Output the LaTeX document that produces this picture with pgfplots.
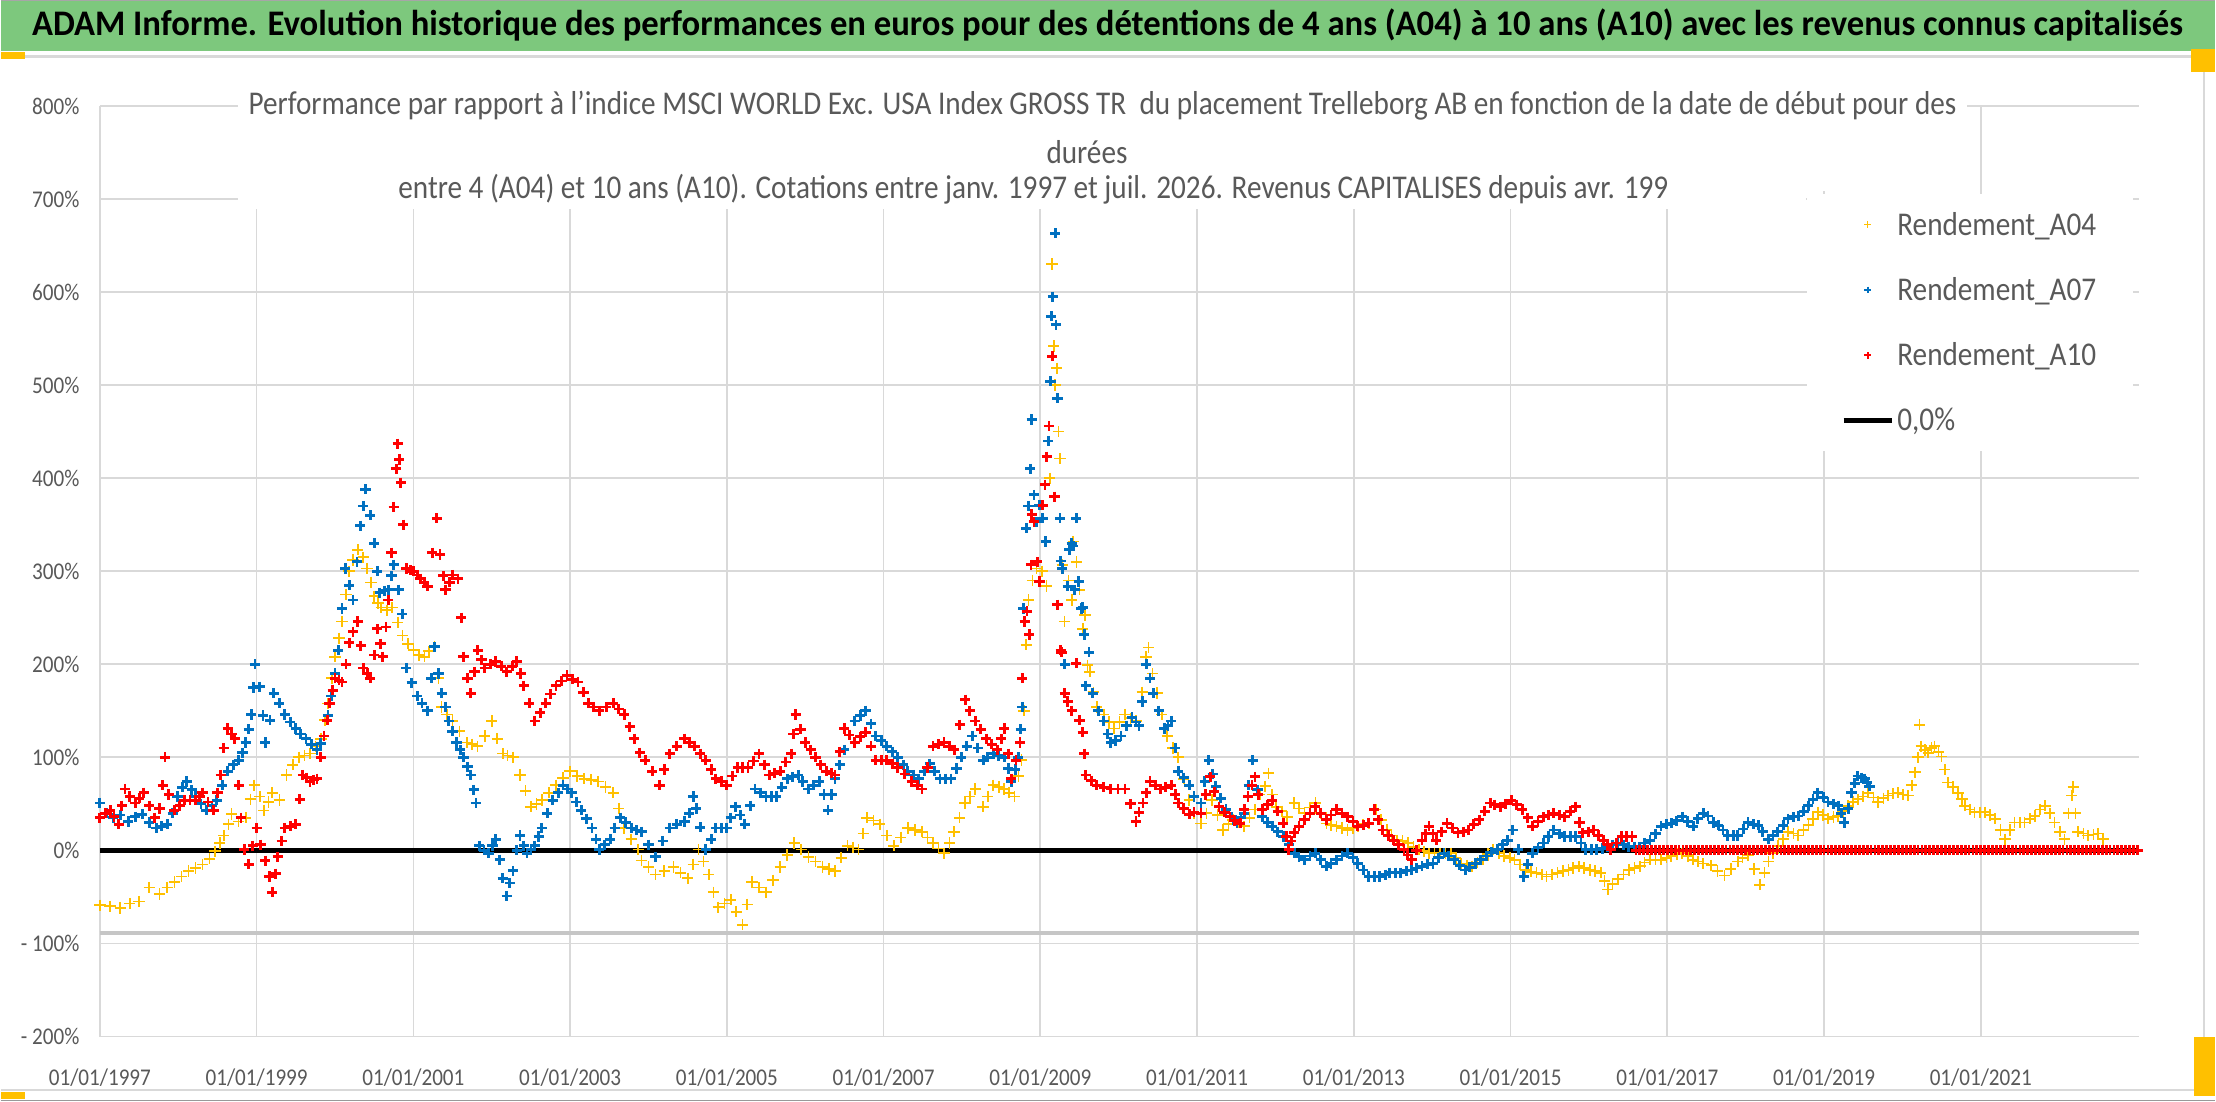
\documentclass[border=0pt]{standalone}
\usepackage{fontspec}
\setmainfont{Carlito}[FakeStretch=0.88]
\usepackage{graphicx}
\usepackage{pgfplots}
\pgfplotsset{compat=1.18}
\definecolor{gridgray}{HTML}{D9D9D9}
\definecolor{textgray}{HTML}{595959}
\definecolor{cA}{HTML}{FFC000}
\definecolor{cB}{HTML}{0070C0}
\definecolor{cC}{HTML}{FF0000}
\definecolor{banner}{RGB}{125,200,125}
\definecolor{handle}{HTML}{FFC000}
\pgfplotsset{
  mylegmark/.style={legend image code/.code={\draw[mark repeat=2,mark phase=2,##1] plot coordinates {(0pt,0pt) (17pt,0pt) (34pt,0pt)};}},
  mylegline/.style={legend image code/.code={\draw[##1] (0pt,0pt) -- (34pt,0pt);}}
}
\begin{document}
\begin{tikzpicture}[x=1pt,y=1pt]
% background and frame
\fill[white] (0,0) rectangle (1568,780);
\fill[banner] (0,744) rectangle (1568,780);
\draw[gray!70,line width=1pt] (0,779.5) -- (1568,779.5);
\draw[gray!30,line width=1.5pt] (0,740) -- (1560,740);
\draw[gray!30,line width=1.5pt] (1560,740) -- (1560,8);
\draw[gray!30,line width=1.5pt] (0,8) -- (1560,8);
\draw[gray!80,line width=1pt] (0,0.5) -- (1568,0.5);
\fill[handle] (0,738) rectangle (17,743);
\fill[handle] (1551,729) rectangle (1568,745);
\fill[handle] (1553,4) rectangle (1568,46);
\fill[handle] (0,2) rectangle (17,7);
\node[text=black] at (783.5,762) {\resizebox{1523pt}{\height}{\fontsize{25.5}{28}\selectfont\bfseries ADAM Informe. Evolution historique des performances en euros pour des détentions de 4 ans (A04) à 10 ans (A10) avec les revenus connus capitalisés}};
\begin{axis}[
  at={(70pt,46pt)}, anchor=south west,
  scale only axis, width=1444pt, height=659pt,
  xmin=1997, xmax=2023.02, ymin=-200, ymax=800,
  xtick={1997,1999,2001,2003,2005,2007,2009,2011,2013,2015,2017,2019,2021},
  xticklabels={01/01/1997,01/01/1999,01/01/2001,01/01/2003,01/01/2005,01/01/2007,01/01/2009,01/01/2011,01/01/2013,01/01/2015,01/01/2017,01/01/2019,01/01/2021},
  ytick={-200,-100,0,100,200,300,400,500,600,700,800},
  yticklabels={- 200\%,- 100\%,0\%,100\%,200\%,300\%,400\%,500\%,600\%,700\%,800\%},
  grid=major, grid style={color=gridgray,line width=1.2pt},
  axis line style={draw=none}, major tick style={draw=none},
  /pgf/number format/assume math mode=true,
  tick label style={text=textgray,font=\fontsize{17}{20}\selectfont},
  xticklabel style={yshift=-19pt},
  yticklabel style={xshift=-11pt},
  clip=false,
  legend style={at={(0.837,0.906)},anchor=north west,draw=none,fill=white,
    inner xsep=24pt,inner ysep=11pt,row sep=24.5pt,
    font=\fontsize{23.5}{27}\selectfont,text=textgray},
  legend cell align=left,
]
\addplot[line width=4pt,black,forget plot] coordinates {(1997,0) (2023.0,0)};
\addplot[line width=2.8pt,color=gray!45,forget plot] coordinates {(1997,-89) (2023.02,-89)};
% A04
\addplot[only marks,mark=+,mark size=4pt,line width=1.2pt,color=cA,forget plot] coordinates {
(1997.00,-59) (1997.13,-60) (1997.26,-62) (1997.38,-57) (1997.50,-55) (1997.63,-40) (1997.76,-47) (1997.86,-40) (1997.95,-34)
(1998.04,-28) (1998.13,-22) (1998.22,-19) (1998.31,-15) (1998.40,-9) (1998.47,-1) (1998.53,8) (1998.58,16) (1998.64,28) (1998.68,39)
(1998.77,31) (1998.86,35) (1998.92,55) (1998.97,70) (1999.04,58) (1999.09,43) (1999.15,52) (1999.20,62) (1999.29,54) (1999.38,81)
(1999.46,92) (1999.54,100) (1999.61,102) (1999.68,104) (1999.75,112) (1999.82,120) (1999.87,140) (1999.91,158) (1999.96,185)
(2000.00,208) (2000.05,228) (2000.09,246) (2000.14,275) (2000.18,300) (2000.23,312) (2000.29,323) (2000.36,315) (2000.41,303)
(2000.46,288) (2000.50,273) (2000.55,266) (2000.59,261) (2000.66,258) (2000.73,261) (2000.80,245) (2000.86,231) (2000.93,222)
(2001.00,215) (2001.07,210) (2001.14,208) (2001.20,214) (2001.27,219) (2001.32,185) (2001.36,154) (2001.43,146) (2001.50,139)
(2001.59,128) (2001.68,116) (2001.75,114) (2001.82,112) (2001.91,123) (2002.00,139) (2002.07,120) (2002.14,104) (2002.20,102)
(2002.27,100) (2002.36,81) (2002.43,64) (2002.50,47) (2002.57,50) (2002.64,54) (2002.73,62) (2002.82,70) (2002.91,78)
(2003.00,85) (2003.09,80) (2003.18,77) (2003.27,76) (2003.36,74) (2003.45,68) (2003.55,62) (2003.62,45) (2003.69,24) (2003.78,12)
(2003.87,1) (2003.91,-11) (2004.00,-18) (2004.09,-26) (2004.20,-22) (2004.32,-18) (2004.41,-24) (2004.50,-30) (2004.57,-15)
(2004.64,1) (2004.70,-12) (2004.77,-26) (2004.83,-45) (2004.89,-61) (2004.97,-57) (2005.05,-53) (2005.12,-66) (2005.20,-80)
(2005.26,-58) (2005.32,-34) (2005.41,-40) (2005.50,-45) (2005.59,-32) (2005.68,-18) (2005.77,-5) (2005.86,8) (2005.95,1)
(2006.04,-7) (2006.13,-12) (2006.22,-18) (2006.30,-20) (2006.38,-22) (2006.46,-8) (2006.54,5) (2006.61,3) (2006.68,1)
(2006.74,18) (2006.79,35) (2006.87,32) (2006.95,28) (2007.04,16) (2007.13,5) (2007.22,14) (2007.31,24) (2007.40,22) (2007.49,20)
(2007.56,14) (2007.63,8) (2007.70,2) (2007.77,-3) (2007.84,8) (2007.90,20) (2007.97,35) (2008.04,51) (2008.10,58) (2008.17,66)
(2008.27,47) (2008.33,58) (2008.40,70) (2008.47,68) (2008.54,66) (2008.60,62) (2008.67,58) (2008.72,80) (2008.76,97)
(2008.79,150) (2008.82,221) (2008.85,269) (2008.90,290) (2008.95,303) (2009.02,300) (2009.08,284) (2009.12,400) (2009.15,630)
(2009.17,542) (2009.19,500) (2009.21,518) (2009.23,450) (2009.25,421) (2009.28,307) (2009.31,246) (2009.36,290) (2009.40,269)
(2009.42,332) (2009.46,310) (2009.50,280) (2009.54,238) (2009.57,253) (2009.60,199) (2009.63,192) (2009.68,170) (2009.72,154)
(2009.81,146) (2009.88,138) (2009.94,131) (2010.01,138) (2010.08,146) (2010.15,142) (2010.22,139) (2010.30,170) (2010.35,208)
(2010.38,218) (2010.43,190) (2010.49,169) (2010.55,146) (2010.62,123) (2010.69,110) (2010.76,100) (2010.83,77) (2010.90,54)
(2010.96,40) (2011.05,29) (2011.12,40) (2011.19,54) (2011.26,38) (2011.33,22) (2011.40,28) (2011.46,33) (2011.53,30) (2011.60,26)
(2011.67,35) (2011.74,44) (2011.80,60) (2011.87,69) (2011.91,83) (2011.96,60) (2012.01,47) (2012.08,42) (2012.15,36) (2012.24,51)
(2012.30,45) (2012.37,40) (2012.44,46) (2012.51,51) (2012.58,40) (2012.65,29) (2012.71,27) (2012.78,26) (2012.85,24) (2012.92,22)
(2012.99,24) (2013.05,26) (2013.12,28) (2013.19,29) (2013.28,44) (2013.35,33) (2013.42,22) (2013.48,16) (2013.55,11) (2013.62,10)
(2013.69,8) (2013.76,4) (2013.83,1) (2013.90,-1) (2013.96,-3) (2014.03,-3) (2014.10,-3) (2014.17,-3) (2014.24,-3) (2014.30,-8)
(2014.37,-14) (2014.44,-16) (2014.51,-17) (2014.58,-13) (2014.65,-10) (2014.71,-4) (2014.78,1) (2014.85,-3) (2014.92,-6)
(2014.99,-8) (2015.05,-10) (2015.12,-15) (2015.19,-21) (2015.26,-23) (2015.33,-24) (2015.40,-26) (2015.46,-28) (2015.53,-26)
(2015.60,-24) (2015.67,-22) (2015.74,-21) (2015.80,-19) (2015.87,-17) (2015.94,-19) (2016.01,-21) (2016.08,-22) (2016.15,-24)
(2016.20,-33) (2016.24,-42) (2016.30,-36) (2016.37,-31) (2016.44,-26) (2016.51,-21) (2016.58,-19) (2016.65,-17) (2016.71,-13)
(2016.78,-10) (2016.85,-10) (2016.92,-10) (2016.99,-8) (2017.05,-6) (2017.12,-4) (2017.19,-3) (2017.26,-6) (2017.33,-10)
(2017.39,-12) (2017.46,-14) (2017.56,-16) (2017.64,-22) (2017.73,-27) (2017.81,-20) (2017.90,-12) (2017.96,-8) (2018.03,-5)
(2018.11,-20) (2018.18,-37) (2018.24,-24) (2018.29,-12) (2018.35,-3) (2018.41,5) (2018.48,12) (2018.54,20) (2018.61,18)
(2018.67,16) (2018.74,22) (2018.80,27) (2018.86,34) (2018.92,41) (2018.99,38) (2019.05,34) (2019.12,36) (2019.18,37) (2019.25,42)
(2019.31,48) (2019.37,52) (2019.43,55) (2019.50,58) (2019.56,62) (2019.63,57) (2019.69,52) (2019.76,56) (2019.82,59) (2019.88,61)
(2019.94,62) (2020.01,60) (2020.07,59) (2020.12,70) (2020.16,84) (2020.20,100) (2020.22,135) (2020.24,112) (2020.29,108)
(2020.33,105) (2020.37,110) (2020.41,112) (2020.46,106) (2020.50,101) (2020.54,87) (2020.58,73) (2020.65,68) (2020.71,62)
(2020.76,55) (2020.80,48) (2020.86,44) (2020.92,41) (2020.99,41) (2021.05,41) (2021.12,38) (2021.18,34) (2021.25,22) (2021.31,12)
(2021.37,22) (2021.43,30) (2021.50,30) (2021.56,30) (2021.63,34) (2021.69,37) (2021.76,44) (2021.82,48) (2021.88,40) (2021.94,30)
(2022.01,20) (2022.07,12) (2022.12,40) (2022.16,59) (2022.18,68) (2022.21,40) (2022.24,20) (2022.31,18) (2022.37,16) (2022.44,17)
(2022.50,18) (2022.56,12)
};
% A07
\addplot[only marks,mark=+,mark size=3.6pt,line width=2pt,color=cB,forget plot] coordinates {
(1997.00,51) (1997.08,40) (1997.17,35) (1997.26,38) (1997.36,31) (1997.45,36) (1997.54,39) (1997.63,30) (1997.72,24) (1997.79,26)
(1997.86,28) (1997.93,40) (1997.99,58) (1998.05,68) (1998.11,74) (1998.17,65) (1998.22,58) (1998.29,50) (1998.36,43) (1998.43,48)
(1998.49,54) (1998.56,70) (1998.63,85) (1998.70,92) (1998.77,97) (1998.82,105) (1998.86,116) (1998.90,130) (1998.93,146)
(1998.96,175) (1998.98,200) (1999.04,176) (1999.08,145) (1999.11,116) (1999.17,140) (1999.22,169) (1999.29,158) (1999.36,146)
(1999.43,138) (1999.50,131) (1999.56,125) (1999.63,120) (1999.70,114) (1999.77,108) (1999.82,115) (1999.86,123) (1999.91,145)
(1999.95,166) (2000.00,190) (2000.04,215) (2000.09,260) (2000.13,303) (2000.18,285) (2000.23,269) (2000.28,310) (2000.32,349)
(2000.36,370) (2000.39,388) (2000.45,360) (2000.50,330) (2000.54,300) (2000.57,277) (2000.63,279) (2000.68,280) (2000.72,295)
(2000.75,307) (2000.81,280) (2000.86,254) (2000.91,196) (2000.98,180) (2001.05,166) (2001.11,158) (2001.18,150) (2001.23,185)
(2001.27,219) (2001.32,190) (2001.36,169) (2001.41,154) (2001.45,139) (2001.50,128) (2001.55,116) (2001.60,108) (2001.64,100)
(2001.69,90) (2001.73,81) (2001.77,65) (2001.80,51) (2001.84,5) (2001.90,0) (2001.96,-3) (2002.01,5) (2002.05,12) (2002.10,-10)
(2002.14,-30) (2002.19,-49) (2002.23,-35) (2002.27,-22) (2002.32,0) (2002.36,16) (2002.41,5) (2002.45,-3) (2002.50,1) (2002.55,5)
(2002.60,15) (2002.64,24) (2002.71,40) (2002.78,54) (2002.85,62) (2002.91,70) (2002.97,66) (2003.02,62) (2003.08,52) (2003.14,43)
(2003.21,34) (2003.28,24) (2003.33,12) (2003.37,1) (2003.44,6) (2003.51,12) (2003.57,24) (2003.64,35) (2003.71,30) (2003.78,24)
(2003.85,22) (2003.91,20) (2004.00,6) (2004.09,-7) (2004.18,10) (2004.27,24) (2004.36,28) (2004.46,31) (2004.52,40) (2004.57,58)
(2004.61,45) (2004.66,25) (2004.73,1) (2004.80,12) (2004.86,24) (2004.93,24) (2005.00,24) (2005.05,35) (2005.11,47) (2005.17,38)
(2005.23,28) (2005.30,48) (2005.36,66) (2005.43,62) (2005.50,58) (2005.57,58) (2005.63,58) (2005.70,68) (2005.77,77) (2005.84,79)
(2005.91,81) (2005.97,74) (2006.04,66) (2006.11,70) (2006.18,74) (2006.24,60) (2006.29,43) (2006.34,60) (2006.38,77) (2006.44,92)
(2006.50,108) (2006.56,124) (2006.63,139) (2006.70,145) (2006.77,150) (2006.84,136) (2006.90,123) (2006.97,118) (2007.04,112)
(2007.11,106) (2007.18,100) (2007.25,92) (2007.31,85) (2007.38,81) (2007.45,77) (2007.52,85) (2007.59,93) (2007.65,85) (2007.72,77)
(2007.79,77) (2007.86,77) (2007.93,88) (2007.99,100) (2008.06,112) (2008.13,123) (2008.20,110) (2008.27,97) (2008.33,100)
(2008.40,104) (2008.47,102) (2008.54,100) (2008.59,88) (2008.63,74) (2008.68,87) (2008.72,100) (2008.75,130) (2008.77,154)
(2008.78,260) (2008.82,346) (2008.85,370) (2008.87,410) (2008.89,463) (2008.92,382) (2008.95,353) (2008.99,371) (2009.03,357)
(2009.07,332) (2009.10,440) (2009.13,504) (2009.14,574) (2009.16,595) (2009.19,663) (2009.20,565) (2009.22,486) (2009.25,357)
(2009.26,311) (2009.28,303) (2009.31,200) (2009.35,284) (2009.37,323) (2009.40,330) (2009.42,327) (2009.44,280) (2009.46,357)
(2009.49,289) (2009.52,260) (2009.54,261) (2009.56,232) (2009.58,177) (2009.62,213) (2009.67,169) (2009.74,150) (2009.81,139)
(2009.86,125) (2009.90,116) (2009.96,118) (2010.03,123) (2010.10,134) (2010.17,143) (2010.22,138) (2010.26,134) (2010.30,160)
(2010.35,200) (2010.40,185) (2010.44,169) (2010.51,150) (2010.58,131) (2010.63,134) (2010.67,139) (2010.72,110) (2010.76,85)
(2010.83,78) (2010.90,70) (2010.96,58) (2011.05,51) (2011.10,74) (2011.15,97) (2011.20,82) (2011.24,69) (2011.30,56) (2011.37,44)
(2011.44,36) (2011.51,29) (2011.56,35) (2011.60,40) (2011.66,70) (2011.71,97) (2011.77,65) (2011.83,36) (2011.90,30) (2011.96,26)
(2012.03,20) (2012.10,15) (2012.17,6) (2012.24,-3) (2012.30,-7) (2012.37,-10) (2012.44,-6) (2012.51,-3) (2012.58,-10) (2012.65,-17)
(2012.71,-14) (2012.78,-10) (2012.85,-6) (2012.92,-3) (2012.99,-8) (2013.05,-14) (2013.12,-21) (2013.19,-28) (2013.26,-28)
(2013.33,-28) (2013.40,-26) (2013.46,-24) (2013.53,-24) (2013.60,-24) (2013.67,-22) (2013.74,-21) (2013.80,-19) (2013.87,-17)
(2013.94,-15) (2014.01,-14) (2014.08,-8) (2014.15,-3) (2014.21,-6) (2014.28,-10) (2014.35,-16) (2014.42,-21) (2014.48,-18)
(2014.55,-14) (2014.62,-10) (2014.69,-6) (2014.76,-2) (2014.83,1) (2014.90,6) (2014.96,11) (2015.03,22) (2015.10,1) (2015.17,-28)
(2015.22,-15) (2015.28,-3) (2015.35,3) (2015.42,8) (2015.48,15) (2015.55,22) (2015.62,18) (2015.69,15) (2015.76,15) (2015.83,15)
(2015.90,8) (2015.96,1) (2016.03,1) (2016.10,1) (2016.17,2) (2016.24,4) (2016.30,6) (2016.37,8) (2016.44,6) (2016.51,4) (2016.58,4)
(2016.65,4) (2016.71,8) (2016.78,11) (2016.85,18) (2016.92,26) (2016.99,28) (2017.05,29) (2017.12,32) (2017.19,36) (2017.26,31)
(2017.33,26) (2017.39,34) (2017.46,40) (2017.52,37) (2017.59,30) (2017.65,27) (2017.71,22) (2017.77,16) (2017.84,16) (2017.90,16)
(2017.97,23) (2018.03,30) (2018.10,28) (2018.16,27) (2018.22,20) (2018.29,12) (2018.35,16) (2018.41,20) (2018.48,27) (2018.54,34)
(2018.61,36) (2018.67,37) (2018.74,42) (2018.80,48) (2018.86,55) (2018.92,62) (2018.99,57) (2019.05,52) (2019.12,50) (2019.18,48)
(2019.22,40) (2019.26,30) (2019.31,45) (2019.35,62) (2019.39,72) (2019.43,80) (2019.48,78) (2019.52,77) (2019.55,73) (2019.58,69)
};
% A10
\addplot[only marks,mark=+,mark size=3.6pt,line width=2pt,color=cC,forget plot] coordinates {
(1997.00,35) (1997.07,40) (1997.13,43) (1997.18,36) (1997.24,28) (1997.28,48) (1997.32,66) (1997.38,58) (1997.45,51) (1997.50,56)
(1997.56,62) (1997.63,48) (1997.70,35) (1997.76,45) (1997.80,70) (1997.83,100) (1997.88,60) (1997.95,43) (1998.02,48) (1998.08,54)
(1998.15,54) (1998.22,54) (1998.27,58) (1998.31,62) (1998.38,52) (1998.45,43) (1998.50,62) (1998.54,81) (1998.58,110) (1998.63,131)
(1998.68,125) (1998.72,120) (1998.77,70) (1998.80,35) (1998.84,1) (1998.90,-15) (1998.95,5) (1999.00,24) (1999.05,6) (1999.11,-11)
(1999.16,-28) (1999.20,-45) (1999.24,-25) (1999.27,-7) (1999.32,10) (1999.36,24) (1999.43,26) (1999.50,28) (1999.55,55) (1999.59,81)
(1999.64,78) (1999.68,74) (1999.73,76) (1999.77,77) (1999.82,100) (1999.86,123) (1999.90,140) (1999.93,158) (1999.97,172)
(2000.00,185) (2000.05,183) (2000.09,181) (2000.14,200) (2000.18,223) (2000.23,235) (2000.29,246) (2000.33,220) (2000.36,196)
(2000.41,190) (2000.45,185) (2000.50,210) (2000.54,238) (2000.58,222) (2000.61,208) (2000.65,240) (2000.68,269) (2000.72,320)
(2000.75,369) (2000.78,410) (2000.80,437) (2000.82,420) (2000.84,395) (2000.87,350) (2000.91,303) (2000.96,301) (2001.00,300)
(2001.05,296) (2001.09,292) (2001.14,288) (2001.18,284) (2001.24,320) (2001.30,357) (2001.34,318) (2001.38,295) (2001.41,280)
(2001.46,288) (2001.50,296) (2001.57,292) (2001.61,250) (2001.64,208) (2001.69,185) (2001.73,169) (2001.78,192) (2001.82,215)
(2001.87,205) (2001.91,196) (2001.98,200) (2002.05,203) (2002.12,198) (2002.19,192) (2002.26,198) (2002.32,203) (2002.37,190)
(2002.41,177) (2002.48,158) (2002.55,139) (2002.62,148) (2002.69,158) (2002.75,168) (2002.82,177) (2002.89,182) (2002.96,188)
(2003.03,184) (2003.10,181) (2003.17,170) (2003.23,158) (2003.30,154) (2003.37,150) (2003.46,154) (2003.55,158) (2003.62,152)
(2003.69,146) (2003.76,133) (2003.82,120) (2003.89,105) (2003.96,97) (2004.05,85) (2004.14,70) (2004.20,87) (2004.27,104)
(2004.36,112) (2004.46,120) (2004.52,116) (2004.59,112) (2004.66,104) (2004.73,97) (2004.80,87) (2004.86,77) (2004.93,74)
(2005.00,70) (2005.07,80) (2005.14,89) (2005.20,89) (2005.27,89) (2005.34,96) (2005.41,104) (2005.48,92) (2005.54,81) (2005.61,83)
(2005.68,85) (2005.75,95) (2005.82,104) (2005.85,125) (2005.88,146) (2005.94,130) (2006.00,116) (2006.07,108) (2006.13,100)
(2006.20,92) (2006.27,85) (2006.33,83) (2006.38,81) (2006.44,106) (2006.50,131) (2006.56,124) (2006.63,116) (2006.70,122)
(2006.77,127) (2006.84,112) (2006.90,97) (2006.97,97) (2007.04,97) (2007.11,93) (2007.18,89) (2007.27,82) (2007.36,74) (2007.43,70)
(2007.49,66) (2007.56,89) (2007.63,112) (2007.70,114) (2007.77,116) (2007.84,112) (2007.90,108) (2007.97,135) (2008.04,162)
(2008.10,150) (2008.17,139) (2008.24,130) (2008.31,120) (2008.38,114) (2008.45,108) (2008.50,120) (2008.54,131) (2008.59,104)
(2008.63,77) (2008.69,97) (2008.74,116) (2008.77,185) (2008.80,246) (2008.83,257) (2008.86,232) (2008.88,307) (2008.89,361)
(2008.92,353) (2008.96,310) (2008.99,289) (2009.03,371) (2009.06,393) (2009.08,423) (2009.11,456) (2009.15,531) (2009.18,380)
(2009.22,264) (2009.26,215) (2009.27,213) (2009.31,169) (2009.35,160) (2009.40,150) (2009.46,201) (2009.50,140) (2009.54,127)
(2009.56,104) (2009.58,81) (2009.65,75) (2009.72,70) (2009.81,68) (2009.90,66) (2009.99,66) (2010.08,66) (2010.15,50) (2010.22,31)
(2010.26,41) (2010.31,51) (2010.35,62) (2010.40,74) (2010.47,70) (2010.53,66) (2010.60,68) (2010.67,70) (2010.72,60) (2010.76,51)
(2010.83,45) (2010.90,39) (2010.96,41) (2011.05,40) (2011.11,60) (2011.17,79) (2011.22,63) (2011.28,47) (2011.35,41) (2011.42,36)
(2011.48,32) (2011.55,29) (2011.60,44) (2011.65,58) (2011.70,70) (2011.74,79) (2011.78,60) (2011.83,44) (2011.90,49) (2011.96,54)
(2012.03,42) (2012.10,29) (2012.14,15) (2012.17,1) (2012.20,10) (2012.24,19) (2012.30,26) (2012.37,33) (2012.44,40) (2012.51,47)
(2012.58,40) (2012.65,33) (2012.71,38) (2012.78,44) (2012.85,40) (2012.92,36) (2012.99,31) (2013.05,26) (2013.12,27) (2013.19,29)
(2013.26,44) (2013.31,33) (2013.37,22) (2013.44,16) (2013.51,11) (2013.57,6) (2013.64,1) (2013.69,-5) (2013.74,-10) (2013.80,0)
(2013.87,11) (2013.92,18) (2013.96,26) (2014.01,18) (2014.05,11) (2014.12,20) (2014.19,29) (2014.26,24) (2014.33,19) (2014.40,20)
(2014.46,22) (2014.53,28) (2014.60,33) (2014.67,42) (2014.74,51) (2014.80,49) (2014.87,47) (2014.94,50) (2015.01,54) (2015.08,49)
(2015.15,44) (2015.22,35) (2015.28,26) (2015.35,31) (2015.42,36) (2015.48,38) (2015.55,40) (2015.62,38) (2015.69,36) (2015.76,42)
(2015.83,47) (2015.88,30) (2015.92,19) (2015.99,20) (2016.06,22) (2016.12,16) (2016.19,11) (2016.24,6) (2016.28,1) (2016.35,8)
(2016.42,15) (2016.48,15) (2016.55,15)
(2016.60,0) (2016.65,0) (2016.70,0) (2016.75,0) (2016.80,0) (2016.85,0) (2016.90,0) (2016.95,0)
(2017.00,0) (2017.05,0) (2017.10,0) (2017.15,0) (2017.20,0) (2017.25,0) (2017.30,0) (2017.35,0) (2017.40,0) (2017.45,0)
(2017.50,0) (2017.55,0) (2017.60,0) (2017.65,0) (2017.70,0) (2017.75,0) (2017.80,0) (2017.85,0) (2017.90,0) (2017.95,0)
(2018.00,0) (2018.05,0) (2018.10,0) (2018.15,0) (2018.20,0) (2018.25,0) (2018.30,0) (2018.35,0) (2018.40,0) (2018.45,0)
(2018.50,0) (2018.55,0) (2018.60,0) (2018.65,0) (2018.70,0) (2018.75,0) (2018.80,0) (2018.85,0) (2018.90,0) (2018.95,0)
(2019.00,0) (2019.05,0) (2019.10,0) (2019.15,0) (2019.20,0) (2019.25,0) (2019.30,0) (2019.35,0) (2019.40,0) (2019.45,0)
(2019.50,0) (2019.55,0) (2019.60,0) (2019.65,0) (2019.70,0) (2019.75,0) (2019.80,0) (2019.85,0) (2019.90,0) (2019.95,0)
(2020.00,0) (2020.05,0) (2020.10,0) (2020.15,0) (2020.20,0) (2020.25,0) (2020.30,0) (2020.35,0) (2020.40,0) (2020.45,0)
(2020.50,0) (2020.55,0) (2020.60,0) (2020.65,0) (2020.70,0) (2020.75,0) (2020.80,0) (2020.85,0) (2020.90,0) (2020.95,0)
(2021.00,0) (2021.05,0) (2021.10,0) (2021.15,0) (2021.20,0) (2021.25,0) (2021.30,0) (2021.35,0) (2021.40,0) (2021.45,0)
(2021.50,0) (2021.55,0) (2021.60,0) (2021.65,0) (2021.70,0) (2021.75,0) (2021.80,0) (2021.85,0) (2021.90,0) (2021.95,0)
(2022.00,0) (2022.05,0) (2022.10,0) (2022.15,0) (2022.20,0) (2022.25,0) (2022.30,0) (2022.35,0) (2022.40,0) (2022.45,0)
(2022.50,0) (2022.55,0) (2022.60,0) (2022.65,0) (2022.70,0) (2022.75,0) (2022.80,0) (2022.85,0) (2022.90,0) (2022.95,0)
(2023.00,0)
};
\addlegendimage{only marks,mark=+,mark size=2.6pt,line width=0.8pt,color=cA,mylegmark}
\addlegendentry{Rendement\_A04}
\addlegendimage{only marks,mark=+,mark size=2.4pt,line width=1.4pt,color=cB,mylegmark}
\addlegendentry{Rendement\_A07}
\addlegendimage{only marks,mark=+,mark size=2.4pt,line width=1.4pt,color=cC,mylegmark}
\addlegendentry{Rendement\_A10}
\addlegendimage{black,line width=4pt,mylegline}
\addlegendentry{0,0\%}
\end{axis}
% title box over plot (kept clear of the legend)
\fill[white] (168,632) rectangle (1278,723);
\fill[white] (1278,645) rectangle (1392,723);
\node[text=textgray,font=\fontsize{23.5}{26}\selectfont] at (780,705) {Performance par rapport à l'indice MSCI WORLD Exc. USA Index GROSS TR\ \ du placement Trelleborg AB en fonction de la date de début pour des};
\node[text=textgray,font=\fontsize{23.5}{26}\selectfont] at (769,672) {durées};
\node[text=textgray,font=\fontsize{23.5}{26}\selectfont] at (731,646) {entre 4 (A04) et 10 ans (A10). Cotations entre janv. 1997 et juil. 2026. Revenus CAPITALISES depuis avr. 199};
\end{tikzpicture}
\end{document}
